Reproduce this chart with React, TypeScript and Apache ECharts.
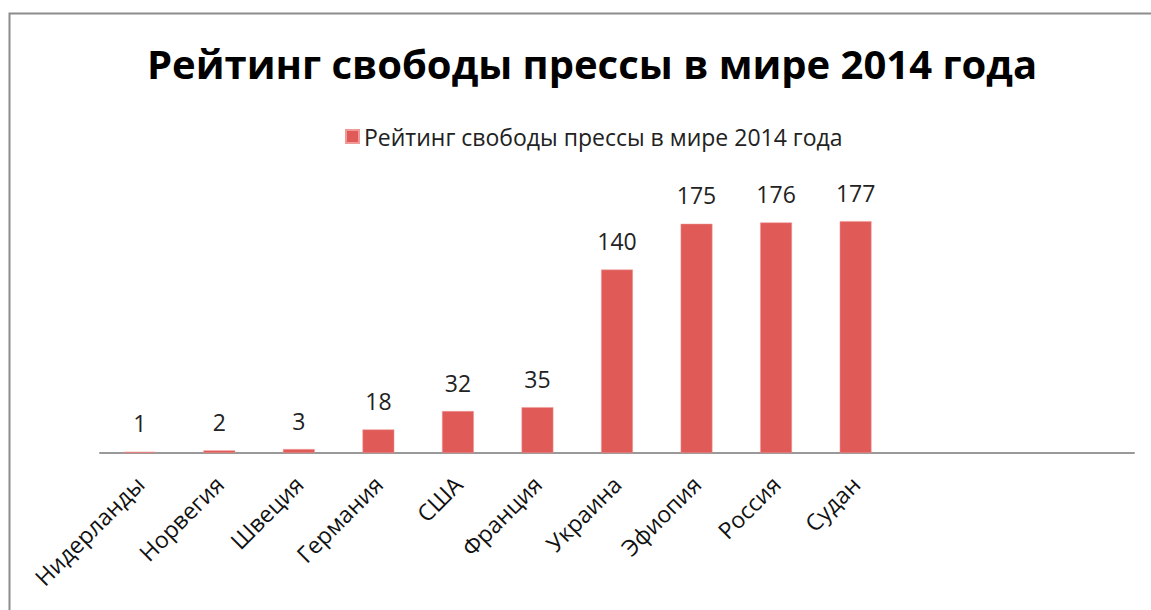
import React, { useEffect, useRef } from "react";
import * as echarts from "echarts";

const title = "Рейтинг свободы прессы в мире 2014 года";
const seriesName = "Рейтинг свободы прессы в мире 2014 года";
const categories = [
  "Нидерланды",
  "Норвегия",
  "Швеция",
  "Германия",
  "США",
  "Франция",
  "Украина",
  "Эфиопия",
  "Россия",
  "Судан",
  "",
  "",
  "",
];
const values: (number | null)[] = [1, 2, 3, 18, 32, 35, 140, 175, 176, 177, null, null, null];

const FONT = "'Open Sans', 'Noto Sans', sans-serif";

export default function App() {
  const ref = useRef<HTMLDivElement>(null);
  useEffect(() => {
    if (!ref.current) return;
    const chart = echarts.init(ref.current, undefined, { renderer: "svg" });
    chart.setOption({
      animation: false,
      backgroundColor: "#ffffff",
      textStyle: { fontFamily: FONT },
      title: {
        text: title,
        left: 142,
        top: 38,
        textStyle: { fontFamily: FONT, fontSize: 40, fontWeight: "bold", color: "#000" },
      },
      legend: {
        data: [seriesName],
        left: 340,
        top: 120,
        icon: "rect",
        itemWidth: 13,
        itemHeight: 13,
        itemGap: 8,
        textStyle: { fontFamily: FONT, fontSize: 23, color: "#222" },
      },
      graphic: [
        {
          type: "rect",
          shape: { x: 9.5, y: 13.5, width: 1160, height: 620 },
          style: { fill: "none", stroke: "#8c8c8c", lineWidth: 2 },
          silent: true,
        },
      ],
      grid: { left: 100, right: 17, top: 191, bottom: 157, containLabel: false },
      xAxis: {
        type: "category",
        data: categories,
        axisLine: { lineStyle: { color: "#999", width: 2 } },
        axisTick: { show: false },
        axisLabel: {
          interval: 0,
          rotate: 45,
          margin: 27,
          fontFamily: FONT,
          fontSize: 23,
          color: "#111",
        },
      },
      yAxis: {
        type: "value",
        min: 0,
        max: 200,
        show: false,
        splitLine: { show: false },
      },
      series: [
        {
          name: seriesName,
          type: "bar",
          data: values,
          barWidth: "40%",
          itemStyle: { color: "#e05b58", borderColor: "#f09a98", borderWidth: 0.5 },
          label: {
            show: true,
            position: "top",
            distance: 17,
            fontFamily: FONT,
            fontSize: 23,
            color: "#222",
          },
        },
      ],
    });
    return () => chart.dispose();
  }, []);
  return (
    <div
      ref={ref}
      style={{ position: "fixed", left: 0, top: 0, width: 1151, height: 610 }}
    />
  );
}
